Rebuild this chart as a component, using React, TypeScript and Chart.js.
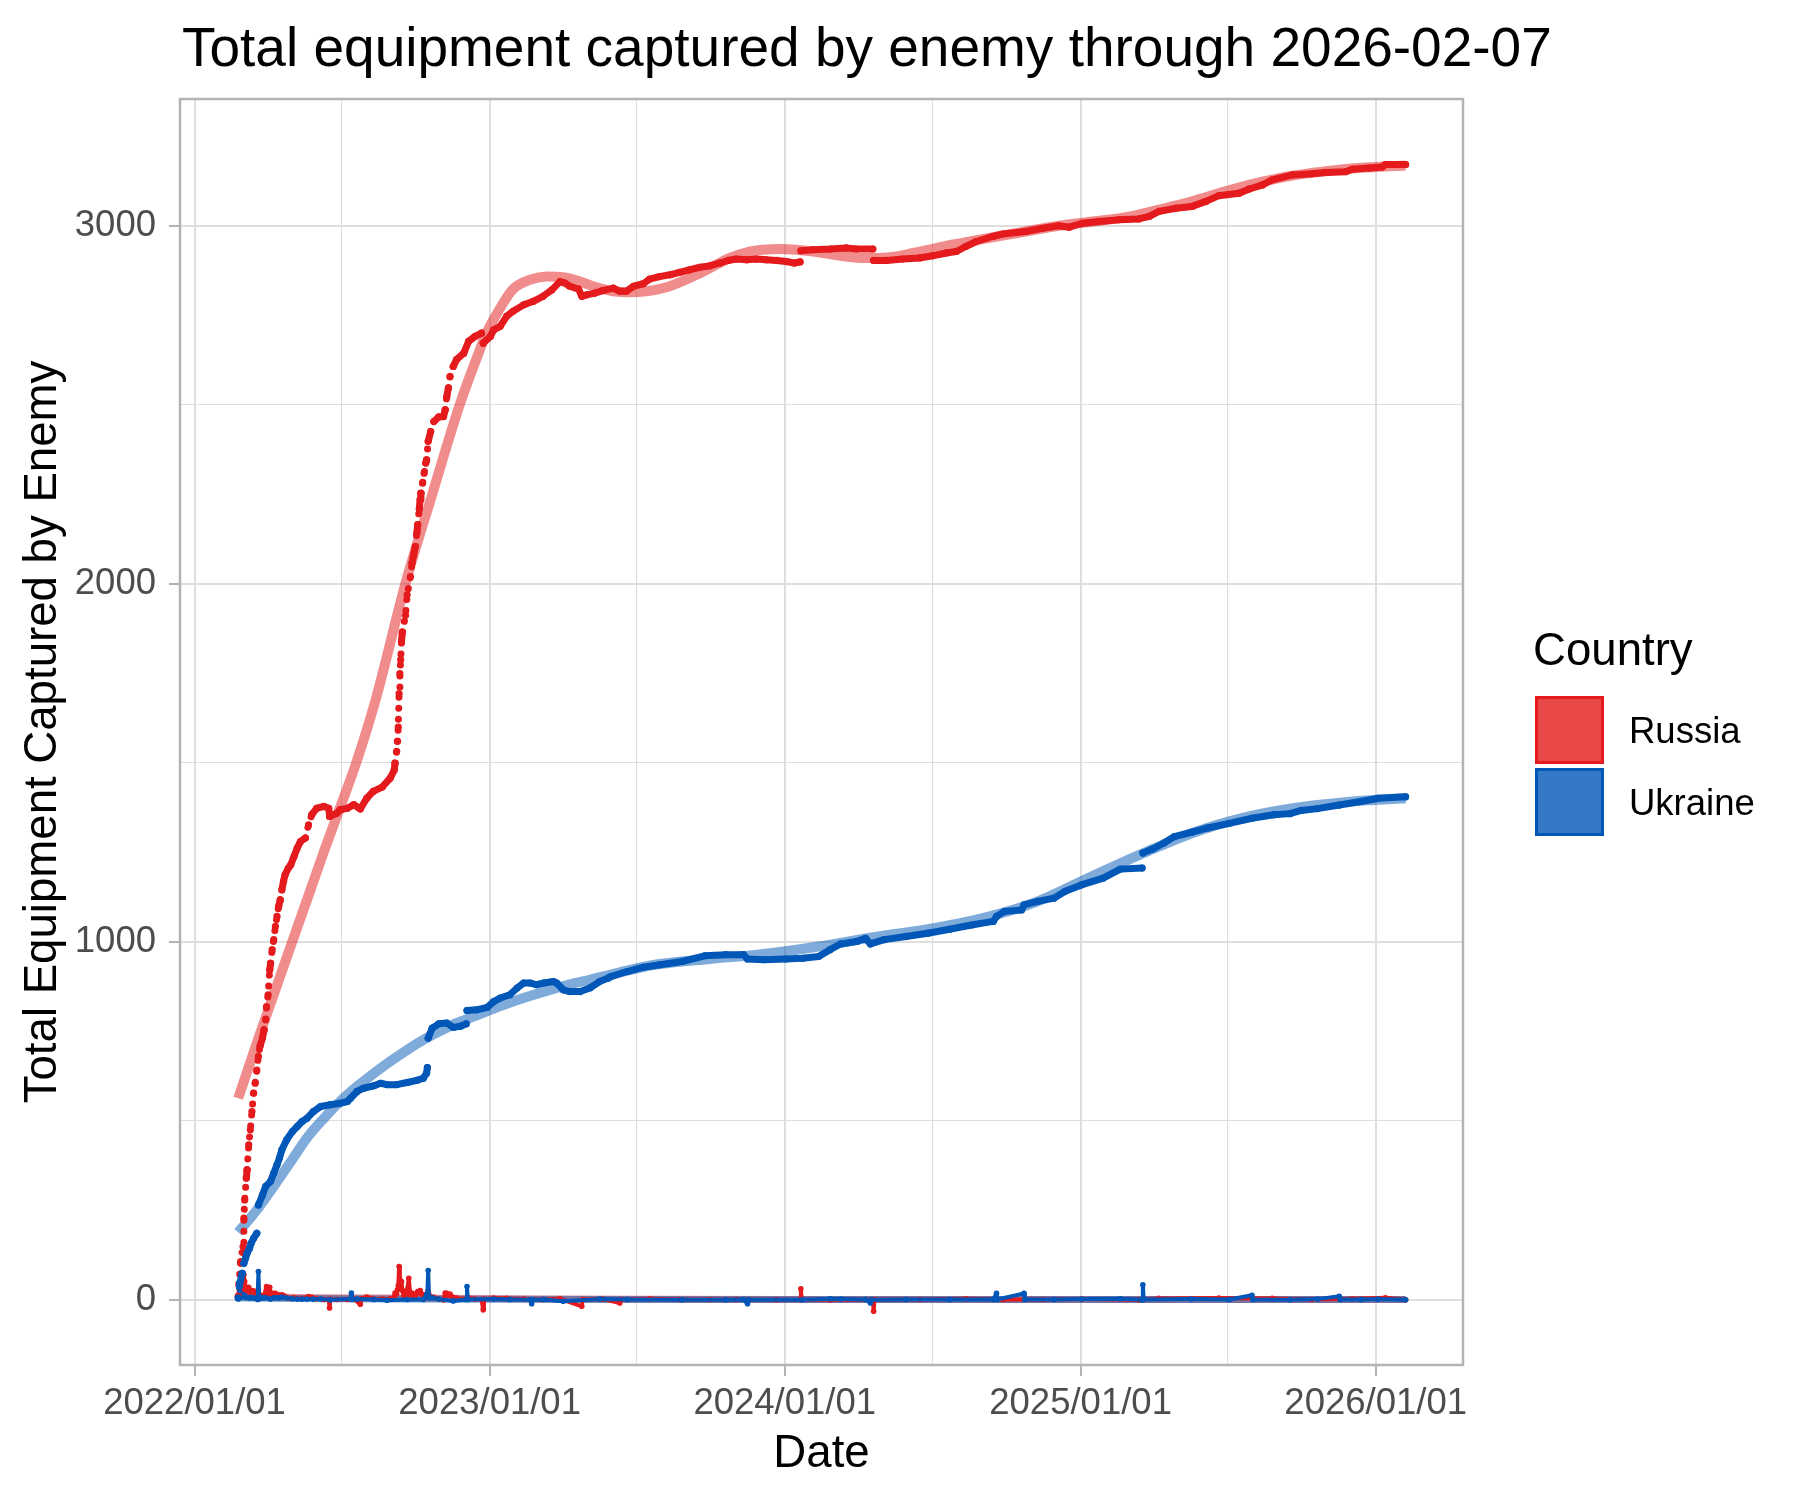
import { useEffect, useRef } from "react";
import { Chart, registerables } from "chart.js";

Chart.register(...registerables);

const FONT = "'Liberation Sans', Arial, Helvetica, sans-serif";
const TITLE = "Total equipment captured by enemy through 2026-02-07";
const X_TITLE = "Date";
const Y_TITLE = "Total Equipment Captured by Enemy";
const LEGEND_TITLE = "Country";
const COUNTRIES = ["Russia", "Ukraine"];

const RED = "#E41A1C";
const BLUE = "#0057B7";

// axis breaks (ggplot style: labelled majors + unlabelled minors)
const X_BREAKS = ["2022-01-01", "2023-01-01", "2024-01-01", "2025-01-01", "2026-01-01"];
const X_MINOR = ["2022-07-02", "2023-07-02", "2024-07-02", "2025-07-02"];
const Y_BREAKS = [0, 1000, 2000, 3000];
const Y_MINOR = [500, 1500, 2500];

type Row = [string, number | null];

// cumulative equipment captured from Russia (null = break in the record)
const RU_TOTAL: Row[] = [
  ["2022-02-24", 10], ["2022-02-25", 45], ["2022-02-27", 107], ["2022-03-02", 149],
  ["2022-03-03", 228], ["2022-03-04", 279], ["2022-03-06", 340], ["2022-03-07", 363],
  ["2022-03-09", 433], ["2022-03-11", 475], ["2022-03-13", 526], ["2022-03-15", 577],
  ["2022-03-17", 605], ["2022-03-19", 642], ["2022-03-21", 680], ["2022-03-23", 708],
  ["2022-03-26", 731], ["2022-03-28", 754], ["2022-03-30", 782], ["2022-03-31", 819],
  ["2022-04-02", 852], ["2022-04-04", 922], ["2022-04-05", 940], ["2022-04-07", 978],
  ["2022-04-09", 1006], ["2022-04-11", 1043], ["2022-04-13", 1071], ["2022-04-15", 1099],
  ["2022-04-17", 1117], ["2022-04-19", 1145], ["2022-04-21", 1169], ["2022-04-23", 1187],
  ["2022-04-27", 1206], ["2022-04-30", 1215], ["2022-05-04", 1238], ["2022-05-08", 1262],
  ["2022-05-12", 1280], ["2022-05-18", 1290], ["2022-05-22", 1327], ["2022-05-26", 1355],
  ["2022-06-01", 1373], ["2022-06-10", 1378], ["2022-06-16", 1373], ["2022-06-17", 1350],
  ["2022-06-26", 1359], ["2022-06-30", 1369], ["2022-07-09", 1373], ["2022-07-17", 1383],
  ["2022-07-25", 1371], ["2022-08-02", 1401], ["2022-08-10", 1420], ["2022-08-21", 1432],
  ["2022-08-31", 1457], ["2022-09-05", 1480], ["2022-09-06", 1499], ["2022-09-08", 1532],
  ["2022-09-09", 1560], ["2022-09-10", 1600], ["2022-09-11", 1693], ["2022-09-12", 1749],
  ["2022-09-13", 1788], ["2022-09-14", 1839], ["2022-09-15", 1865], ["2022-09-19", 1912],
  ["2022-09-21", 1969], ["2022-09-25", 2020], ["2022-09-27", 2058], ["2022-09-29", 2081],
  ["2022-10-01", 2104], ["2022-10-03", 2142], ["2022-10-04", 2165], ["2022-10-06", 2209],
  ["2022-10-07", 2235], ["2022-10-08", 2253], ["2022-10-10", 2281], ["2022-10-12", 2309],
  ["2022-10-14", 2337], ["2022-10-15", 2346], ["2022-10-17", 2398], ["2022-10-20", 2425],
  ["2022-10-24", 2453], ["2022-10-30", 2466], ["2022-11-05", 2467], ["2022-11-07", 2486],
  ["2022-11-09", 2523], ["2022-11-11", 2547], ["2022-11-13", 2579], ["2022-11-17", 2607],
  ["2022-11-21", 2626], ["2022-11-30", 2644], ["2022-12-06", 2677], ["2022-12-14", 2691],
  ["2022-12-22", 2700], ["2022-12-24", 2672], ["2023-01-02", 2691], ["2023-01-06", 2709],
  ["2023-01-14", 2719], ["2023-01-22", 2747], ["2023-01-30", 2761], ["2023-02-12", 2779],
  ["2023-02-24", 2789], ["2023-03-08", 2803], ["2023-03-19", 2821], ["2023-03-29", 2844],
  ["2023-04-04", 2840], ["2023-04-10", 2831], ["2023-04-21", 2823], ["2023-04-25", 2803],
  ["2023-05-01", 2807], ["2023-05-11", 2812], ["2023-05-21", 2819], ["2023-06-03", 2826],
  ["2023-06-11", 2817], ["2023-06-19", 2817], ["2023-06-28", 2831], ["2023-07-10", 2838],
  ["2023-07-18", 2851], ["2023-07-30", 2858], ["2023-08-12", 2863], ["2023-08-24", 2870],
  ["2023-09-05", 2877], ["2023-09-18", 2884], ["2023-09-30", 2888], ["2023-10-13", 2896],
  ["2023-10-23", 2903], ["2023-11-02", 2907], ["2023-11-15", 2905], ["2023-11-27", 2907],
  ["2023-12-09", 2905], ["2023-12-22", 2903], ["2024-01-03", 2900], ["2024-01-13", 2896],
  ["2024-01-20", 2899], ["2024-01-21", null],
  ["2024-01-21", 2930], ["2024-02-05", 2933], ["2024-02-26", 2935], ["2024-03-17", 2938],
  ["2024-03-29", 2935], ["2024-04-19", 2935], ["2024-04-20", null],
  ["2024-04-20", 2903], ["2024-05-06", 2903], ["2024-05-26", 2907], ["2024-06-16", 2910],
  ["2024-07-02", 2916], ["2024-07-19", 2924], ["2024-07-31", 2928], ["2024-08-12", 2942],
  ["2024-08-25", 2956], ["2024-09-14", 2970], ["2024-09-27", 2977], ["2024-10-25", 2984],
  ["2024-11-15", 2993], ["2024-12-05", 3000], ["2024-12-18", 2996], ["2025-01-03", 3007],
  ["2025-01-24", 3012], ["2025-02-18", 3017], ["2025-03-14", 3019], ["2025-03-27", 3026],
  ["2025-04-08", 3040], ["2025-04-29", 3049], ["2025-05-19", 3054], ["2025-06-05", 3068],
  ["2025-06-21", 3084], ["2025-07-16", 3091], ["2025-07-28", 3102], ["2025-08-14", 3114],
  ["2025-08-26", 3128], ["2025-09-20", 3142], ["2025-10-14", 3145], ["2025-10-31", 3149],
  ["2025-11-25", 3151], ["2025-12-03", 3158], ["2025-12-24", 3161], ["2026-01-09", 3164],
  ["2026-01-13", 3171], ["2026-02-07", 3171],
];

// cumulative equipment captured from Ukraine
const UA_TOTAL: Row[] = [
  ["2022-02-24", 5], ["2022-02-26", 47], ["2022-03-01", 74], ["2022-03-03", 102],
  ["2022-03-05", 116], ["2022-03-07", 130], ["2022-03-10", 144], ["2022-03-12", 158],
  ["2022-03-15", 172], ["2022-03-19", 186], ["2022-03-20", null],
  ["2022-03-21", 265], ["2022-03-26", 293], ["2022-03-30", 317], ["2022-04-05", 331],
  ["2022-04-09", 354], ["2022-04-13", 377], ["2022-04-16", 396], ["2022-04-19", 419],
  ["2022-04-25", 447], ["2022-05-02", 470], ["2022-05-08", 484], ["2022-05-14", 498],
  ["2022-05-20", 507], ["2022-05-28", 526], ["2022-06-06", 540], ["2022-06-18", 545],
  ["2022-06-30", 549], ["2022-07-09", 554], ["2022-07-13", 563], ["2022-07-21", 582],
  ["2022-07-29", 591], ["2022-08-11", 598], ["2022-08-19", 605], ["2022-08-27", 601],
  ["2022-09-08", 601], ["2022-09-21", 607], ["2022-10-03", 613], ["2022-10-11", 619],
  ["2022-10-15", 633], ["2022-10-16", 649], ["2022-10-17", null],
  ["2022-10-17", 731], ["2022-10-22", 759], ["2022-10-30", 771], ["2022-11-09", 773],
  ["2022-11-17", 761], ["2022-11-26", 764], ["2022-12-03", 771], ["2022-12-04", null],
  ["2022-12-04", 808], ["2022-12-16", 810], ["2022-12-29", 817], ["2023-01-06", 833],
  ["2023-01-14", 843], ["2023-01-26", 852], ["2023-02-04", 871], ["2023-02-12", 885],
  ["2023-02-20", 885], ["2023-02-28", 880], ["2023-03-09", 885], ["2023-03-21", 889],
  ["2023-03-25", 885], ["2023-04-02", 866], ["2023-04-10", 861], ["2023-04-23", 861],
  ["2023-05-05", 871], ["2023-05-17", 889], ["2023-05-28", 899], ["2023-05-31", 903],
  ["2023-06-20", 917], ["2023-07-10", 929], ["2023-07-31", 936], ["2023-08-27", 945],
  ["2023-09-24", 961], ["2023-10-20", 964], ["2023-11-11", 964], ["2023-11-16", 952],
  ["2023-12-06", 950], ["2024-01-02", 952], ["2024-01-23", 954], ["2024-02-12", 959],
  ["2024-02-26", 978], ["2024-03-10", 994], ["2024-03-30", 1001], ["2024-04-10", 1010],
  ["2024-04-16", 994], ["2024-05-03", 1006], ["2024-05-30", 1015], ["2024-06-26", 1024],
  ["2024-07-23", 1035], ["2024-08-19", 1047], ["2024-09-15", 1057], ["2024-09-19", 1071],
  ["2024-09-29", 1085], ["2024-10-20", 1089], ["2024-10-23", 1103], ["2024-11-09", 1113],
  ["2024-11-29", 1122], ["2024-12-13", 1141], ["2025-01-02", 1159], ["2025-01-29", 1178],
  ["2025-02-19", 1203], ["2025-03-18", 1206], ["2025-03-19", null],
  ["2025-03-19", 1248], ["2025-03-31", 1259], ["2025-04-14", 1276], ["2025-04-27", 1294],
  ["2025-05-18", 1306], ["2025-06-07", 1318], ["2025-07-04", 1331], ["2025-08-01", 1345],
  ["2025-08-28", 1355], ["2025-09-17", 1358], ["2025-10-01", 1367], ["2025-10-21", 1372],
  ["2025-11-17", 1382], ["2025-12-14", 1392], ["2026-01-04", 1401], ["2026-02-07", 1405],
];

// loess fits of the cumulative totals
const RU_FIT: Row[] = [
  ["2022-02-24", 563], ["2022-03-22", 737], ["2022-04-11", 866], ["2022-05-01", 995],
  ["2022-05-21", 1123], ["2022-06-10", 1252], ["2022-06-30", 1375], ["2022-07-20", 1500],
  ["2022-08-13", 1676], ["2022-09-19", 2002], ["2022-10-20", 2235], ["2022-11-25", 2500],
  ["2022-12-20", 2654], ["2022-12-28", 2700], ["2023-01-14", 2770], ["2023-01-30", 2823],
  ["2023-02-20", 2849], ["2023-03-13", 2858], ["2023-04-02", 2856], ["2023-04-23", 2844],
  ["2023-05-13", 2828], ["2023-06-03", 2817], ["2023-06-23", 2814], ["2023-07-14", 2817],
  ["2023-08-04", 2826], ["2023-08-24", 2842], ["2023-09-14", 2863], ["2023-10-04", 2886],
  ["2023-10-25", 2910], ["2023-11-15", 2926], ["2023-12-05", 2933], ["2023-12-26", 2935],
  ["2024-01-15", 2933], ["2024-02-05", 2928], ["2024-02-26", 2921], ["2024-03-17", 2914],
  ["2024-04-07", 2910], ["2024-04-27", 2910], ["2024-05-18", 2914], ["2024-06-08", 2924],
  ["2024-06-28", 2933], ["2024-07-19", 2944], ["2024-08-08", 2952], ["2024-08-29", 2961],
  ["2024-10-25", 2984], ["2024-12-05", 3000], ["2025-01-16", 3012], ["2025-02-26", 3024],
  ["2025-04-08", 3045], ["2025-05-19", 3068], ["2025-06-29", 3096], ["2025-08-10", 3121],
  ["2025-09-20", 3140], ["2025-10-31", 3152], ["2025-12-11", 3161], ["2026-02-07", 3168],
];

const UA_FIT: Row[] = [
  ["2022-02-24", 189], ["2022-03-19", 251], ["2022-04-09", 317], ["2022-04-30", 386],
  ["2022-05-20", 452], ["2022-06-10", 507], ["2022-06-30", 554], ["2022-07-21", 596],
  ["2022-08-11", 633], ["2022-08-31", 666], ["2022-09-21", 698], ["2022-10-11", 726],
  ["2022-10-31", 750], ["2022-11-21", 773], ["2022-12-12", 791], ["2023-01-02", 810],
  ["2023-01-22", 827], ["2023-02-12", 843], ["2023-03-04", 857], ["2023-03-25", 871],
  ["2023-04-15", 884], ["2023-05-05", 894], ["2023-05-30", 908], ["2023-07-24", 936],
  ["2023-09-30", 952], ["2023-12-06", 966], ["2024-02-12", 987], ["2024-04-20", 1013],
  ["2024-06-26", 1035], ["2024-09-02", 1066], ["2024-11-09", 1113], ["2025-01-15", 1183],
  ["2025-03-24", 1252], ["2025-05-31", 1313], ["2025-08-07", 1355], ["2025-10-13", 1380],
  ["2025-12-20", 1395], ["2026-02-07", 1401],
];

// day-to-day change in the totals
const RU_DAILY: Row[] = [
  ["2022-02-24", 10], ["2022-02-25", 35], ["2022-02-26", 30], ["2022-02-27", 31],
  ["2022-03-01", 14], ["2022-03-03", 70], ["2022-03-04", 51], ["2022-03-06", 30],
  ["2022-03-07", 23], ["2022-03-09", 35], ["2022-03-11", 21], ["2022-03-13", 25],
  ["2022-03-15", 25], ["2022-03-17", 14], ["2022-03-19", 18], ["2022-03-21", 19],
  ["2022-03-23", 14], ["2022-03-26", 8], ["2022-03-28", 12], ["2022-03-31", 37],
  ["2022-04-02", 16], ["2022-04-04", 35], ["2022-04-05", 18], ["2022-04-07", 19],
  ["2022-04-09", 14], ["2022-04-11", 18], ["2022-04-13", 14], ["2022-04-15", 14],
  ["2022-04-17", 9], ["2022-04-19", 14], ["2022-04-21", 12], ["2022-04-23", 9],
  ["2022-04-27", 5], ["2022-05-04", 6], ["2022-05-12", 4], ["2022-05-22", 9],
  ["2022-05-26", 7], ["2022-06-01", 3], ["2022-06-10", 1], ["2022-06-16", 0],
  ["2022-06-17", -23], ["2022-06-18", 2], ["2022-06-26", 1], ["2022-07-09", 1],
  ["2022-07-17", 2], ["2022-07-25", -12], ["2022-07-26", 3], ["2022-08-02", 8],
  ["2022-08-10", 3], ["2022-08-21", 2], ["2022-08-31", 3], ["2022-09-05", 8],
  ["2022-09-06", 19], ["2022-09-08", 17], ["2022-09-09", 28], ["2022-09-10", 40],
  ["2022-09-11", 93], ["2022-09-12", 56], ["2022-09-13", 39], ["2022-09-14", 51],
  ["2022-09-15", 26], ["2022-09-17", 12], ["2022-09-19", 12], ["2022-09-21", 28],
  ["2022-09-23", 60], ["2022-09-25", 13], ["2022-09-27", 19], ["2022-09-29", 12],
  ["2022-10-01", 12], ["2022-10-03", 19], ["2022-10-04", 23], ["2022-10-06", 22],
  ["2022-10-07", 26], ["2022-10-08", 18], ["2022-10-10", 14], ["2022-10-12", 14],
  ["2022-10-14", 14], ["2022-10-15", 9], ["2022-10-17", 26], ["2022-10-20", 9],
  ["2022-10-24", 7], ["2022-10-30", 2], ["2022-11-05", 0], ["2022-11-07", 19],
  ["2022-11-09", 18], ["2022-11-11", 12], ["2022-11-13", 16], ["2022-11-17", 7],
  ["2022-11-21", 5], ["2022-11-30", 2], ["2022-12-06", 6], ["2022-12-14", 2],
  ["2022-12-22", 1], ["2022-12-24", -28], ["2022-12-25", 2], ["2023-01-06", 5],
  ["2023-01-22", 4], ["2023-02-12", 2], ["2023-03-08", 1], ["2023-03-29", 3],
  ["2023-04-25", -18], ["2023-04-26", 1], ["2023-05-21", 2], ["2023-06-11", -9],
  ["2023-06-12", 1], ["2023-07-18", 3], ["2023-08-24", 1], ["2023-09-30", 1],
  ["2023-11-02", 1], ["2023-12-22", 0], ["2024-01-20", 1], ["2024-01-21", 31],
  ["2024-01-22", 1], ["2024-02-26", 0], ["2024-04-19", 0], ["2024-04-20", -32],
  ["2024-04-21", 1], ["2024-06-16", 1], ["2024-08-12", 3], ["2024-09-27", 1],
  ["2024-11-15", 1], ["2025-01-03", 2], ["2025-03-14", 0], ["2025-04-08", 4],
  ["2025-06-21", 5], ["2025-08-26", 4], ["2025-10-14", 1], ["2025-12-03", 3],
  ["2026-01-13", 6], ["2026-02-07", 0],
];

const UA_DAILY: Row[] = [
  ["2022-02-24", 5], ["2022-02-26", 21], ["2022-03-01", 9], ["2022-03-03", 14],
  ["2022-03-05", 7], ["2022-03-07", 7], ["2022-03-10", 5], ["2022-03-12", 7],
  ["2022-03-15", 5], ["2022-03-19", 4], ["2022-03-20", 1], ["2022-03-21", 79],
  ["2022-03-22", 3], ["2022-03-26", 6], ["2022-03-30", 6], ["2022-04-05", 2],
  ["2022-04-09", 6], ["2022-04-13", 6], ["2022-04-16", 6], ["2022-04-19", 8],
  ["2022-04-25", 5], ["2022-05-02", 3], ["2022-05-08", 2], ["2022-05-14", 2],
  ["2022-05-20", 2], ["2022-05-28", 2], ["2022-06-06", 2], ["2022-06-18", 0],
  ["2022-07-13", 2], ["2022-07-14", 19], ["2022-07-15", 1], ["2022-07-21", 2],
  ["2022-08-11", 1], ["2022-08-27", -1], ["2022-09-21", 1], ["2022-10-11", 1],
  ["2022-10-15", 14], ["2022-10-16", 16], ["2022-10-17", 82], ["2022-10-18", 5],
  ["2022-10-22", 6], ["2022-10-30", 2], ["2022-11-17", -3], ["2022-12-03", 1],
  ["2022-12-04", 37], ["2022-12-05", 1], ["2023-01-06", 2], ["2023-01-26", 1],
  ["2023-02-21", 0], ["2023-02-22", -11], ["2023-02-23", 0], ["2023-03-09", 1],
  ["2023-04-02", -4], ["2023-05-17", 2], ["2023-06-20", 1], ["2023-08-27", 0],
  ["2023-10-20", 0], ["2023-11-11", 1], ["2023-11-16", -11], ["2023-11-17", 0],
  ["2024-01-23", 0], ["2024-02-26", 3], ["2024-03-10", 2], ["2024-04-10", 1],
  ["2024-04-16", -9], ["2024-04-17", 0], ["2024-05-30", 1], ["2024-07-23", 1],
  ["2024-09-15", 1], ["2024-09-19", 18], ["2024-09-20", 1], ["2024-10-23", 18],
  ["2024-10-24", 1], ["2024-11-29", 1], ["2025-01-02", 2], ["2025-02-19", 3],
  ["2025-03-18", 0], ["2025-03-19", 42], ["2025-03-20", 1], ["2025-05-18", 2],
  ["2025-07-04", 1], ["2025-08-01", 13], ["2025-08-02", 1], ["2025-09-17", 0],
  ["2025-10-21", 2], ["2025-11-17", 10], ["2025-11-18", 1], ["2025-12-14", 1],
  ["2026-01-04", 2], ["2026-02-07", 0],
];

// loess fits of the daily change (hug zero)
const RU_DAILY_FIT: Row[] = [
  ["2022-02-24", 9], ["2022-06-01", 6], ["2022-10-01", 5], ["2023-03-01", 2],
  ["2024-01-01", 1], ["2025-01-01", 1], ["2026-02-07", 1],
];
const UA_DAILY_FIT: Row[] = [
  ["2022-02-24", 5], ["2022-09-01", 2], ["2023-06-01", 1], ["2025-01-01", 1],
  ["2026-02-07", 1],
];

const ts = (d: string) => Date.parse(d + "T00:00:00Z");
const toPoints = (rows: Row[]) => rows.map(([d, v]) => ({ x: ts(d), y: v }));

const X_MAJOR_TS = X_BREAKS.map(ts);

function withAlpha(hex: string, a: number) {
  const n = parseInt(hex.slice(1), 16);
  return `rgba(${(n >> 16) & 255}, ${(n >> 8) & 255}, ${n & 255}, ${a})`;
}

// long, steep stretches are separate daily dots in the original, not a solid run
const dottedWhenSteep = (c: any) => {
  const dx = c.p1.x - c.p0.x;
  const dy = c.p1.y - c.p0.y;
  return Math.abs(dy) > 2.5 * Math.abs(dx) && Math.hypot(dx, dy) > 10 ? [0.01, 11] : undefined;
};

// ggplot-ish title, panel border and legend
const decor = {
  id: "decor",
  afterDatasetsDraw(chart: Chart) {
    const { ctx, chartArea: a } = chart;
    ctx.save();
    ctx.strokeStyle = "#B3B3B3";
    ctx.lineWidth = 2.5;
    ctx.strokeRect(a.left, a.top, a.right - a.left, a.bottom - a.top);
    ctx.restore();
  },
  afterDraw(chart: Chart) {
    const { ctx } = chart;
    ctx.save();
    ctx.fillStyle = "#000";
    ctx.textBaseline = "alphabetic";
    ctx.textAlign = "left";
    ctx.font = `55px ${FONT}`;
    ctx.fillText(TITLE, 182, 66);

    ctx.font = `45.6px ${FONT}`;
    ctx.fillText(LEGEND_TITLE, 1533, 665);

    const colors = [RED, BLUE];
    COUNTRIES.forEach((name, i) => {
      const top = 696 + i * 72;
      ctx.fillStyle = withAlpha(colors[i], 0.8);
      ctx.fillRect(1535, top, 69, 68);
      ctx.strokeStyle = colors[i];
      ctx.lineWidth = 3;
      ctx.strokeRect(1536.5, top + 1.5, 66, 65);
      ctx.fillStyle = "#000";
      ctx.font = `36.5px ${FONT}`;
      ctx.fillText(name, 1629, top + 47);
    });
    ctx.restore();
  },
};

export default function App() {
  const canvasRef = useRef<HTMLCanvasElement>(null);

  useEffect(() => {
    document.body.style.margin = "0";
    if (!canvasRef.current) return;

    const tickFont = { family: FONT, size: 36.5 };
    const titleFont = { family: FONT, size: 45.6, lineHeight: 1.2 };

    const cumulative = (label: string, rows: Row[], color: string) => ({
      label,
      data: toPoints(rows),
      borderColor: color,
      backgroundColor: color,
      borderWidth: 7,
      pointRadius: 3.6,
      pointBorderWidth: 0,
      borderCapStyle: "round" as const,
      borderJoinStyle: "round" as const,
      spanGaps: false,
      tension: 0,
      segment: { borderDash: dottedWhenSteep },
    });

    const daily = (label: string, rows: Row[], color: string) => ({
      label,
      data: toPoints(rows),
      borderColor: color,
      backgroundColor: color,
      borderWidth: 4,
      pointRadius: 2.8,
      pointBorderWidth: 0,
      borderJoinStyle: "round" as const,
      tension: 0,
    });

    const fit = (label: string, rows: Row[], color: string, width: number) => ({
      label,
      data: toPoints(rows),
      borderColor: withAlpha(color, 0.5),
      borderWidth: width,
      pointRadius: 0,
      borderCapStyle: "butt" as const,
      cubicInterpolationMode: "monotone" as const,
    });

    const chart = new Chart(canvasRef.current, {
      type: "line",
      data: {
        datasets: [
          cumulative("Ukraine", UA_TOTAL, BLUE),
          cumulative("Russia", RU_TOTAL, RED),
          daily("Ukraine daily", UA_DAILY, BLUE),
          daily("Russia daily", RU_DAILY, RED),
          fit("Ukraine fit", UA_FIT, BLUE, 10),
          fit("Russia fit", RU_FIT, RED, 10),
          fit("Ukraine daily fit", UA_DAILY_FIT, BLUE, 7),
          fit("Russia daily fit", RU_DAILY_FIT, RED, 7),
        ],
      },
      options: {
        responsive: false,
        animation: false,
        devicePixelRatio: 1,
        events: [],
        layout: { padding: { top: 99, right: 337, bottom: 0, left: 0 } },
        plugins: {
          legend: { display: false },
          tooltip: { enabled: false },
          title: { display: false },
        },
        scales: {
          x: {
            type: "linear",
            min: ts("2021-12-14"),
            max: ts("2026-04-19"),
            afterBuildTicks: (scale: any) => {
              scale.ticks = [
                ...X_BREAKS.map((d) => ({ value: ts(d), major: true })),
                ...X_MINOR.map((d) => ({ value: ts(d), major: false })),
              ];
            },
            afterFit: (scale: any) => {
              scale.height = 135;
            },
            ticks: {
              autoSkip: false,
              maxRotation: 0,
              padding: 6,
              color: "#4D4D4D",
              font: tickFont,
              callback: (v: any) => {
                const i = X_MAJOR_TS.indexOf(Number(v));
                return i >= 0 ? X_BREAKS[i].replace(/-/g, "/") : "";
              },
            },
            grid: {
              color: "#DEDEDE",
              lineWidth: (c: any) => (c.tick && c.tick.major ? 2 : 1.1),
              tickLength: 11,
              tickColor: (c: any) => (c.tick && c.tick.major ? "#B3B3B3" : "rgba(0,0,0,0)"),
              tickWidth: 2,
            },
            border: { display: false },
            title: {
              display: true,
              text: X_TITLE,
              color: "#000",
              font: titleFont,
              padding: { top: 0, bottom: 18 },
            },
          },
          y: {
            type: "linear",
            min: -182,
            max: 3354,
            afterBuildTicks: (scale: any) => {
              scale.ticks = [
                ...Y_BREAKS.map((v) => ({ value: v, major: true })),
                ...Y_MINOR.map((v) => ({ value: v, major: false })),
              ];
            },
            afterFit: (scale: any) => {
              scale.width = 180;
            },
            ticks: {
              autoSkip: false,
              padding: 13,
              color: "#4D4D4D",
              font: tickFont,
              callback: (v: any) => (Y_BREAKS.includes(Number(v)) ? String(v) : ""),
            },
            grid: {
              color: "#DEDEDE",
              lineWidth: (c: any) => (c.tick && c.tick.major ? 2 : 1.1),
              tickLength: 11,
              tickColor: (c: any) => (c.tick && c.tick.major ? "#B3B3B3" : "rgba(0,0,0,0)"),
              tickWidth: 2,
            },
            border: { display: false },
            title: {
              display: true,
              text: Y_TITLE,
              color: "#000",
              font: titleFont,
              padding: { top: 16, bottom: 0 },
            },
          },
        },
      } as any,
      plugins: [decor],
    });

    return () => chart.destroy();
  }, []);

  return (
    <div style={{ width: 1800, height: 1500, background: "#fff" }}>
      <canvas
        ref={canvasRef}
        width={1800}
        height={1500}
        style={{ width: 1800, height: 1500, display: "block" }}
      />
    </div>
  );
}
